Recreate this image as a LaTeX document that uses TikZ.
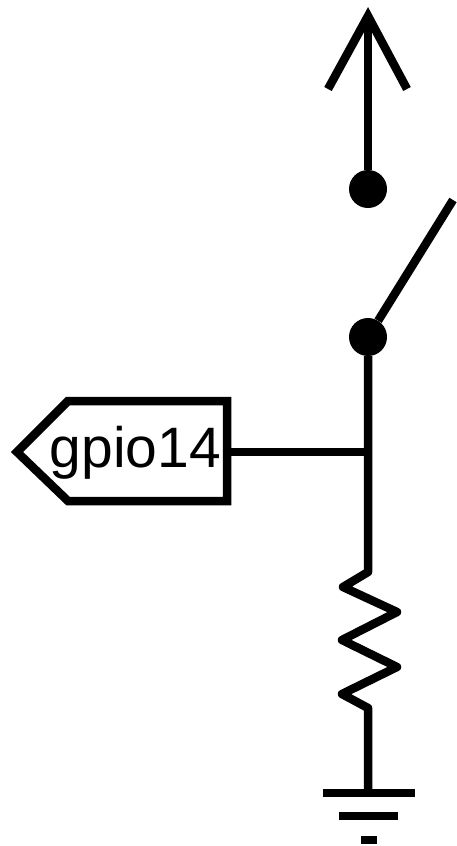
\documentclass[tikz,border=0pt]{standalone}
\usepackage{fontspec}
\setmainfont{Liberation Sans}
\begin{document}
\begin{tikzpicture}[x=1pt,y=-1pt,line join=miter,
  wire/.style={line width=8.5pt,black},
  bar/.style={line width=7.5pt,black},
  dot/.style={circle,fill=black,inner sep=0pt,minimum size=38pt},
  lbl/.style={font=\fontsize{57}{57}\selectfont,inner sep=0pt,anchor=base}]
\useasboundingbox (0,0) rectangle (457,846);
\coordinate (top) at (368,16);
\coordinate (al) at (328,89);
\coordinate (ar) at (407,89);
\node[dot] (d1) at (368,189) {};
\node[dot] (d2) at (368,337) {};
\coordinate (sw) at (453,200);
\coordinate (j) at (368,452);
\coordinate (r0) at (368,572);
\coordinate (r6) at (368,708);
\coordinate (g) at (368,793);
\draw[wire] (top) -- (d1);
\draw[wire] (al) -- (top) -- (ar);
\draw[wire] (d2) -- (sw);
\draw[wire,line join=round] (d2) -- (r0) -- (343,587) -- (397,612) -- (342,640) -- (397,667) -- (342,694) -- (r6) -- (g);
\node[lbl] (lab) at (135.5,467) {gpio14};
\draw[wire] (227,401) -- (68,401) -- (17,452) -- (68,501) -- (227,501) -- cycle;
\draw[wire] (227,452) -- (j);
\draw[bar] (323,793) -- (415,793);
\draw[bar] (339,816) -- (398,816);
\draw[bar] (361,840) -- (377,840);
\end{tikzpicture}
\end{document}
